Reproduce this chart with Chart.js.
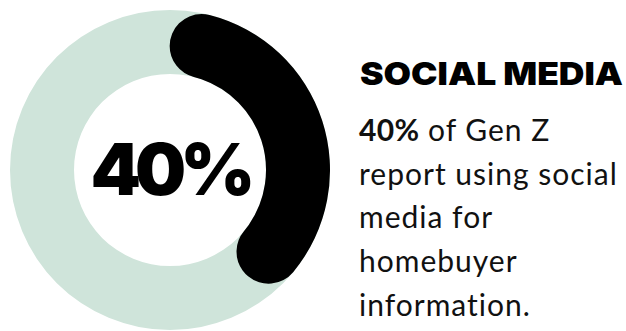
<!DOCTYPE html>
<html>
<head>
<meta charset="utf-8">
<script src="https://cdn.jsdelivr.net/npm/chart.js@4.4.0/dist/chart.umd.min.js"></script>
<style>
  html, body { margin: 0; padding: 0; background: #fff; }
  body { width: 626px; height: 331px; position: relative; overflow: hidden; }
  .ring { position: absolute; left: 10px; top: 10px; width: 320px; height: 320px; }
  .ring canvas { position: absolute; left: 0; top: 0; }
  #center-label {
    position: absolute; left: 10px; top: 10px; width: 320px; height: 320px;
    display: flex; align-items: center; justify-content: center;
    font-family: Inter, sans-serif; font-weight: 900; font-size: 72px;
    letter-spacing: -6px; color: #000; padding-bottom: 3px; box-sizing: border-box;
  }
  #title {
    position: absolute; left: 360px; top: 54px; margin: 0;
    font-family: Inter, sans-serif; font-weight: 900; font-size: 32px;
    line-height: 40px; color: #000; white-space: nowrap; transform-origin: 0 0;
  }
  #blurb {
    position: absolute; left: 359px; top: 108px; margin: 0;
    font-family: Lato, sans-serif; font-size: 30px;
    line-height: 43.7px; color: #111; white-space: nowrap; letter-spacing: 1px;
  }
  #blurb b { font-weight: 700; letter-spacing: 0.3px; }
</style>
</head>
<body>
<div class="ring">
  <canvas id="track" width="320" height="320"></canvas>
  <canvas id="share" width="320" height="320"></canvas>
</div>
<div id="center-label"></div>
<h2 id="title"></h2>
<p id="blurb"></p>
<script>
const labels = ["Use social media", "Other"];
const values = [40, 60];
const trackValues = [100];
const title = "SOCIAL MEDIA";
const blurbLines = ["of Gen Z", "report using social", "media for", "homebuyer", "information."];

const shareColor = "#000000";
const trackColor = "#cfe4da";

const pct = values[0] + "%";
document.getElementById("center-label").textContent = pct;
document.getElementById("blurb").innerHTML = "<b>" + pct + "</b> " + blurbLines.join("<br>");

// headline is set in a wide heavy face; stretch Inter Black to the same width
const titleEl = document.getElementById("title");
titleEl.textContent = title;
const titleWidth = 263;
titleEl.style.transform = "scaleX(" + (titleWidth / titleEl.getBoundingClientRect().width) + ")";

const baseOptions = {
  responsive: false,
  animation: false,
  cutout: "60%",
  plugins: { legend: { display: false }, tooltip: { enabled: false } },
  events: []
};

// full pale ring underneath
new Chart(document.getElementById("track"), {
  type: "doughnut",
  data: {
    labels: ["All"],
    datasets: [{ data: trackValues, backgroundColor: [trackColor], borderWidth: 0 }]
  },
  options: baseOptions
});

// black share on top, round caps from borderRadius
new Chart(document.getElementById("share"), {
  type: "doughnut",
  data: {
    labels: labels,
    datasets: [{
      data: values,
      backgroundColor: [shareColor, "rgba(0,0,0,0)"],
      borderWidth: 0,
      borderRadius: [32, 0]
    }]
  },
  options: baseOptions
});
</script>
</body>
</html>
